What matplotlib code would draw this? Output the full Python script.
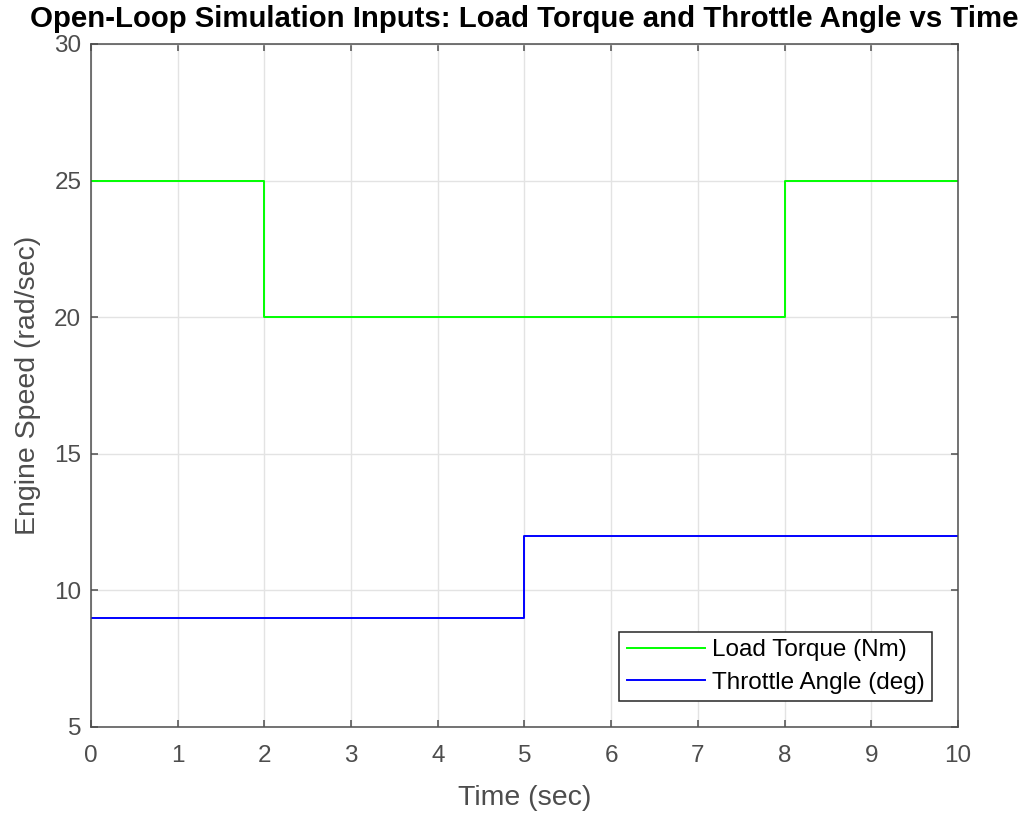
import numpy as np
import matplotlib.pyplot as plt

plt.rcParams['font.family'] = ['Liberation Sans', 'DejaVu Sans']

# Entradas del ensayo en lazo abierto
t_load = [0, 2, 2, 8, 8, 10]
load_torque = [25, 25, 20, 20, 25, 25]      # Par de carga [Nm]
t_throttle = [0, 5, 5, 10]
throttle_angle = [9, 9, 12, 12]             # Ángulo de mariposa [deg]

x_ticks = np.arange(0, 11, 1)
y_ticks = [5, 10, 15, 20, 25, 30]

fig = plt.figure(figsize=(10.25, 8.14), dpi=100)
ax = fig.add_axes([0.0888, 0.1069, 0.8458, 0.8391])

ax.plot(t_load, load_torque, color='#00ff00', lw=1.4, label='Load Torque (Nm)')
ax.plot(t_throttle, throttle_angle, color='#0000ff', lw=1.4, label='Throttle Angle (deg)')

ax.set_xlim(0, 10)
ax.set_ylim(5, 30)
ax.set_xticks(x_ticks)
ax.set_yticks(y_ticks)
ax.grid(True, color='#e3e3e3', lw=1.0)
ax.tick_params(direction='in', length=5, width=1.1, colors='#4d4d4d', labelsize=17.5,
               top=True, right=True, labeltop=False, labelright=False, pad=7)
ax.tick_params(axis='x', pad=13)
for s in ax.spines.values():
    s.set_color('#4d4d4d')
    s.set_linewidth(1.1)

ax.set_xlabel('Time (sec)', fontsize=20.5, color='#4d4d4d', labelpad=13)
ax.set_ylabel('Engine Speed (rad/sec)', fontsize=20.5, color='#4d4d4d', labelpad=9.5)
ax.set_title('Open-Loop Simulation Inputs: Load Torque and Throttle Angle vs Time',
             fontsize=21.2, fontweight='bold', color='black', pad=12)

leg = ax.legend(loc='lower right', fontsize=17.5, frameon=True, fancybox=False,
                edgecolor='#262626', framealpha=1, handlelength=3.2, borderaxespad=1.05,
                handletextpad=0.3, labelspacing=0.42, borderpad=0.32)
leg.get_frame().set_linewidth(1.1)

fig.savefig('out.png', dpi=100)
